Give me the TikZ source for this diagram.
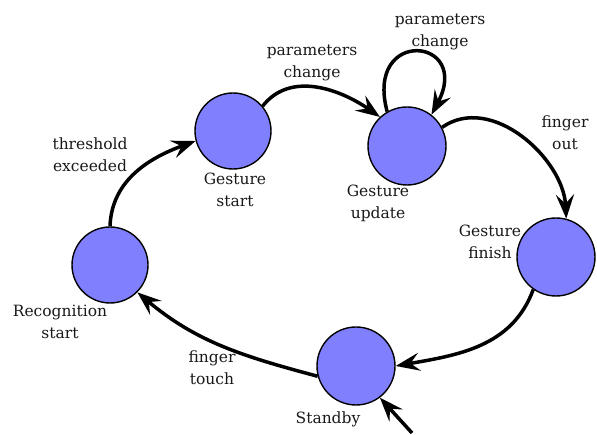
\documentclass[tikz,border=0pt]{standalone}
\usepackage{fontspec}
\setmainfont{DejaVu Serif}
\usetikzlibrary{arrows.meta}
\definecolor{statefill}{RGB}{128,128,255}
\definecolor{txt}{RGB}{25,25,25}
\tikzset{
  state/.style={circle, draw=black, line width=1.4pt, fill=statefill, minimum size=76pt, inner sep=0pt},
  lbl/.style={align=center, inner sep=0pt, text=txt, font=\fontsize{15.5}{22}\selectfont},
  edge/.style={draw=black, line width=3.5pt, -{Stealth[length=24pt, width=18pt, inset=9pt]}}
}
\begin{document}
\begin{tikzpicture}[x=1pt, y=1pt]
\useasboundingbox (0,0) rectangle (597,435);
\fill[white] (0,0) rectangle (597,435);
% states
\node[state] (rec) at (110,170) {};
\node[state] (gs)  at (233,304) {};
\node[state, minimum size=78pt] (gu)  at (407,289) {};
\node[state, minimum size=78pt] (gf)  at (556,178) {};
\node[state, minimum size=78pt] (sb)  at (356,69) {};
\coordinate (in) at (412,2);
% state labels
\node[lbl] (lrec) at (60,113) {Recognition\\start};
\node[lbl] (lgs)  at (235,245) {Gesture\\start};
\node[lbl] (lgu)  at (378,232) {Gesture\\update};
\node[lbl] (lgf)  at (490,193) {Gesture\\finish};
\node[lbl] (lsb)  at (328,16) {Standby};
% edge labels
\node[lbl] (e1) at (90,280) {threshold\\exceeded};
\node[lbl] (e2) at (312,372) {parameters\\change};
\node[lbl] (e3) at (440,403) {parameters\\change};
\node[lbl] (e4) at (565,302) {finger\\out};
\node[lbl] (e6) at (212,67) {finger\\touch};
% edges
\draw[edge] (rec.north) to[out=88, in=200] (gs.195);
\draw[edge] (gs.40) to[out=52, in=145] (gu.133);
\draw[edge] (gu.120) to[out=105, in=62, distance=88pt] (gu.52);
\draw[edge] (gu.28) to[out=35, in=93] (gf.75);
\draw[edge] (gf.235) to[out=250, in=10] (sb.east);
\draw[edge] (sb.195) to[out=165, in=320] (rec.-45);
\draw[edge] (in) -- (sb.-53);
\end{tikzpicture}
\end{document}
